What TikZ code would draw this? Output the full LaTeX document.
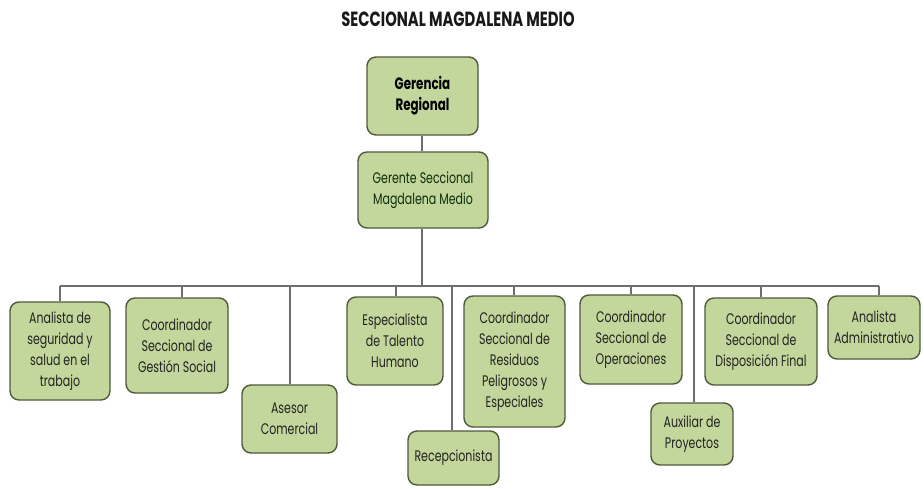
\documentclass[tikz,border=0pt]{standalone}
\usepackage{fontspec}
\setmainfont[FakeStretch=0.72]{Poppins}
\begin{document}
\begin{tikzpicture}[x=1pt,y=-1pt,
  box/.style={draw=boxline, line width=1.4pt, fill=boxfill, rounded corners=9pt,
    align=center, inner sep=0pt, text=boxtext,
    font=\fontsize{15.3}{21}\selectfont},
  conn/.style={draw=connline, line width=1.3pt}]
\definecolor{boxfill}{HTML}{C3D69B}
\definecolor{boxline}{HTML}{4E5A3C}
\definecolor{boxtext}{HTML}{222222}
\definecolor{connline}{HTML}{6E6E6E}
\useasboundingbox[fill=white] (0,0) rectangle (924,488);
\node[font=\bfseries\fontsize{20.5}{24}\selectfont, text=black!90] (title) at (458,19.5) {SECCIONAL MAGDALENA MEDIO};
% top boxes
\node[box, minimum width=111pt, minimum height=78pt, font=\bfseries\fontsize{16.5}{21}\selectfont, text=black] (gr) at (422.5,96) {Gerencia\\Regional};
\node[box, minimum width=130pt, minimum height=76pt, text=boxtext!75!green!50!black] (gs) at (423,190) {Gerente Seccional\\Magdalena Medio};
% lower boxes
\node[box, minimum width=100pt, minimum height=98pt] (b1) at (60,351) {Analista de\\seguridad y\\salud en el\\trabajo};
\node[box, minimum width=102pt, minimum height=95pt] (b2) at (177,345.5) {Coordinador\\Seccional de\\Gestión Social};
\node[box, minimum width=95pt, minimum height=68pt] (b3) at (289.5,419) {Asesor\\Comercial};
\node[box, minimum width=96pt, minimum height=88pt] (b4) at (395,341) {Especialista\\de Talento\\Humano};
\node[box, minimum width=91pt, minimum height=54pt] (b5) at (453.5,458) {Recepcionista};
\node[box, minimum width=101pt, minimum height=131pt] (b6) at (514.5,361.5) {Coordinador\\Seccional de\\Residuos\\Peligrosos y\\Especiales};
\node[box, minimum width=102pt, minimum height=89pt] (b7) at (631,339.5) {Coordinador\\Seccional de\\Operaciones};
\node[box, minimum width=82pt, minimum height=62pt] (b8) at (692,434) {Auxiliar de\\Proyectos};
\node[box, minimum width=112pt, minimum height=87pt] (b9) at (761,341.5) {Coordinador\\Seccional de\\Disposición Final};
\node[box, minimum width=92pt, minimum height=63pt] (b10) at (874,327.5) {Analista\\Administrativo};
% bar
\coordinate (barL) at (60,286);
\coordinate (barR) at (879,286);
\coordinate (barM) at (422,286);
\draw[conn] (gr.south -| 422,0) -- (gs.north -| 422,0);
\draw[conn] (gs.south -| 422,0) -- (barM);
\draw[conn] (barL) -- (barR);
\draw[conn] (barL) -- (b1.north -| barL);
\draw[conn] (182,286) -- (b2.north -| 182,0);
\draw[conn] (290,286) -- (b3.north -| 290,0);
\draw[conn] (396,286) -- (b4.north -| 396,0);
\draw[conn] (452,286) -- (b5.north -| 452,0);
\draw[conn] (514,286) -- (b6.north -| 514,0);
\draw[conn] (631,286) -- (b7.north -| 631,0);
\draw[conn] (694,286) -- (b8.north -| 694,0);
\draw[conn] (761,286) -- (b9.north -| 761,0);
\draw[conn] (barR) -- (b10.north -| barR);
\end{tikzpicture}
\end{document}
